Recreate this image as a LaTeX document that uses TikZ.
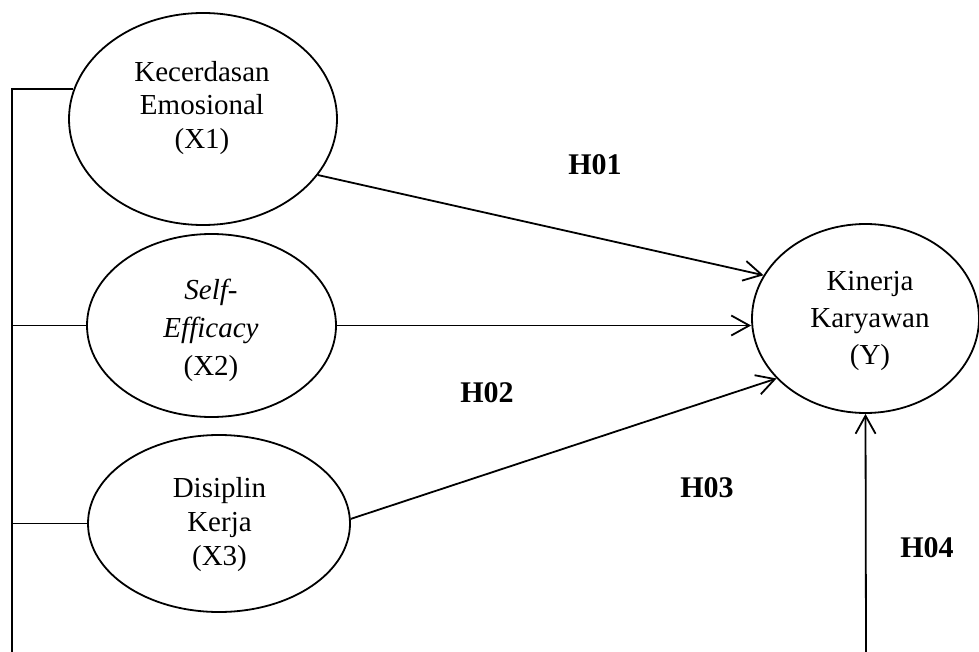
\documentclass[tikz,border=0pt]{standalone}
\usepackage{fontspec}
\setmainfont{Liberation Serif}
\usetikzlibrary{shapes.geometric,arrows.meta}
\tikzset{
  var/.style={draw, ellipse, line width=1.8pt, inner sep=0pt},
  txt/.style={align=center, inner sep=0pt, font=\fontsize{29}{35}\selectfont},
  hyp/.style={inner sep=0pt, font=\fontsize{30}{36}\selectfont\bfseries},
  conn/.style={line width=1.8pt},
  arr/.style={conn, -{Straight Barb[length=18pt,width=20pt,line width=1.8pt]}}
}
\begin{document}
\begin{tikzpicture}[x=1pt,y=-1pt]
\useasboundingbox (0,0) rectangle (979,652);
% ellipses
\node[var, minimum width=268pt, minimum height=212pt] (X1) at (203,119) {};
\node[var, minimum width=249pt, minimum height=183pt] (X2) at (211.5,325.5) {};
\node[var, minimum width=262pt, minimum height=177pt] (X3) at (219,523.5) {};
\node[var, minimum width=227pt, minimum height=189pt] (Y) at (865.5,318.5) {};
% texts
\node[txt, font=\fontsize{29}{33.5}\selectfont] (X1t) at (202,108) {Kecerdasan\\Emosional\\(X1)};
\node[txt, font=\fontsize{29}{38}\selectfont] (X2t) at (211,330) {\textit{Self-}\\\textit{Efficacy}\\(X2)};
\node[txt, font=\fontsize{29}{34}\selectfont] (X3t) at (219.5,525) {Disiplin\\Kerja\\(X3)};
\node[txt, font=\fontsize{29}{37}\selectfont] (Yt) at (870,321) {Kinerja\\Karyawan\\(Y)};
% hypothesis labels
\node[hyp] (H1) at (595,165) {H01};
\node[hyp] (H2) at (487,393) {H02};
\node[hyp] (H3) at (707,488) {H03};
\node[hyp] (H4) at (927,548) {H04};
% coordinates
\coordinate (lb) at (12,652);
\coordinate (yb) at (866,652);
% connectors
\draw[conn] (X1.167.3) -| (lb);
\draw[conn] (X2.west) -- (X2.west -| lb);
\draw[conn] (X3.west) -- (X3.west -| lb);
\draw[arr] (X1.-26.6) -- (Y.157.15);
\draw[arr] (X2.east) -- (X2.east -| Y.west);
\draw[arr] (X3.2.9) -- (Y.214);
\draw[arr] (yb) -- (Y.south);
\end{tikzpicture}
\end{document}
